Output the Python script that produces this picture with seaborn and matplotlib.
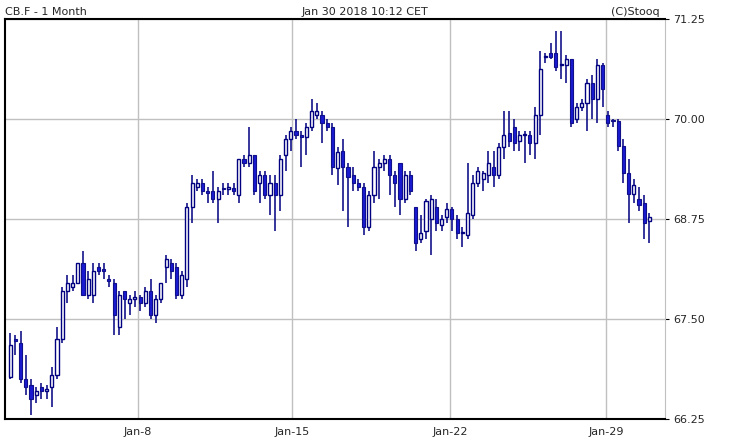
import numpy as np
import matplotlib
matplotlib.use("Agg")
import matplotlib.pyplot as plt
import seaborn as sns

# hourly candles, CB.F, Jan 2 - Jan 30 2018
opens = [66.78, 67.25, 67.2, 66.75, 66.68, 66.55, 66.65, 66.6, 66.65, 66.8, 67.25, 67.85,
         67.9, 67.95, 68.2, 67.8, 67.8, 68.15, 68.12, 68.0, 67.95, 67.4, 67.85, 67.7,
         67.75, 67.78, 67.7, 67.85, 67.55, 67.75, 68.15, 68.2, 68.15, 67.8, 68.0, 68.9,
         69.15, 69.2, 69.1, 69.1, 69.0, 69.13, 69.13, 69.14, 69.05, 69.5, 69.45, 69.55,
         69.2, 69.3, 69.05, 69.2, 69.05, 69.55, 69.75, 69.85, 69.8, 69.78, 69.9, 70.05,
         70.05, 69.95, 69.9, 69.39, 69.6, 69.4, 69.3, 69.2, 69.15, 68.65, 69.05, 69.4,
         69.45, 69.5, 69.3, 69.45, 69.0, 69.3, 68.9, 68.5, 68.6, 68.75, 68.9, 68.68,
         68.77, 68.88, 68.75, 68.57, 68.55, 68.8, 69.2, 69.25, 69.3, 69.4, 69.3, 69.65,
         69.82, 69.9, 69.72, 69.8, 69.8, 69.7, 70.05, 70.77, 70.83, 70.82, 70.67, 70.68,
         70.75, 70.0, 70.15, 70.2, 70.45, 70.25, 70.67, 70.05, 69.98, 69.98, 69.66, 69.33,
         69.06, 69.0, 68.95, 68.72]
highs = [67.32, 67.3, 67.35, 67.05, 66.75, 66.65, 66.7, 66.68, 66.9, 67.4, 67.9, 68.05,
         68.05, 68.2, 68.35, 68.1, 68.2, 68.2, 68.2, 68.05, 68.0, 67.85, 67.85, 67.8,
         67.85, 67.8, 67.9, 68.0, 67.8, 67.95, 68.3, 68.25, 68.2, 68.1, 68.95, 69.3,
         69.25, 69.25, 69.15, 69.35, 69.15, 69.2, 69.2, 69.2, 69.5, 69.55, 69.9, 69.55,
         69.35, 69.35, 69.3, 69.3, 69.55, 69.8, 69.9, 70.0, 69.85, 69.95, 70.25, 70.2,
         70.1, 70.0, 69.95, 69.65, 69.75, 69.45, 69.4, 69.25, 69.2, 69.1, 69.6, 69.5,
         69.55, 69.55, 69.35, 69.45, 69.35, 69.35, 68.9, 68.8, 69.0, 69.05, 69.0, 68.8,
         68.95, 68.9, 68.8, 68.65, 69.45, 69.3, 69.4, 69.35, 69.6, 69.6, 69.7, 70.1,
         70.1, 70.0, 69.85, 69.85, 69.85, 70.15, 70.85, 70.82, 70.95, 71.1, 71.1, 70.8,
         70.75, 70.2, 70.25, 70.5, 70.55, 70.75, 70.7, 70.1, 70.0, 70.0, 69.75, 69.5,
         69.25, 69.15, 69.05, 68.82]
lows = [66.75, 67.05, 66.7, 66.55, 66.3, 66.45, 66.5, 66.5, 66.4, 66.75, 67.2, 67.7,
        67.85, 67.95, 67.8, 67.75, 67.7, 68.05, 68.0, 67.9, 67.3, 67.3, 67.5, 67.55,
        67.65, 67.6, 67.65, 67.5, 67.45, 67.7, 67.95, 68.0, 67.75, 67.75, 67.9, 68.7,
        69.1, 69.05, 68.95, 68.95, 68.7, 69.05, 69.05, 69.05, 68.95, 69.4, 69.4, 69.05,
        68.95, 69.0, 68.8, 68.6, 68.85, 69.35, 69.6, 69.75, 69.4, 69.55, 69.85, 70.0,
        69.7, 69.85, 69.3, 69.17, 68.85, 68.65, 69.1, 69.1, 68.55, 68.6, 68.95, 69.0,
        69.35, 69.05, 68.9, 68.8, 68.95, 69.05, 68.35, 68.45, 68.5, 68.3, 68.6, 68.6,
        68.7, 68.6, 68.5, 68.4, 68.5, 68.75, 69.15, 69.1, 69.2, 69.15, 69.25, 69.5,
        69.65, 69.6, 69.6, 69.45, 69.55, 69.5, 69.8, 70.7, 70.75, 70.6, 70.5, 70.45,
        69.9, 69.95, 70.1, 69.85, 70.0, 69.95, 70.15, 69.9, 69.9, 69.6, 69.2, 68.7,
        68.95, 68.85, 68.5, 68.45]
closes = [67.17, 67.22, 66.75, 66.65, 66.5, 66.6, 66.6, 66.62, 66.8, 67.25, 67.85, 67.95,
          67.95, 68.2, 67.8, 68.0, 68.1, 68.1, 68.1, 67.98, 67.55, 67.8, 67.75, 67.75,
          67.77, 67.7, 67.85, 67.55, 67.75, 67.95, 68.25, 68.1, 67.8, 68.05, 68.9, 69.2,
          69.2, 69.1, 69.08, 69.0, 69.1, 69.12, 69.13, 69.1, 69.5, 69.45, 69.55, 69.1,
          69.3, 69.05, 69.2, 69.05, 69.5, 69.75, 69.85, 69.8, 69.78, 69.9, 70.1, 70.1,
          69.95, 69.9, 69.4, 69.59, 69.4, 69.28, 69.2, 69.15, 68.65, 69.05, 69.4, 69.45,
          69.5, 69.3, 69.2, 69.0, 69.3, 69.1, 68.45, 68.58, 68.98, 69.0, 68.7, 68.75,
          68.88, 68.75, 68.57, 68.58, 68.82, 69.2, 69.35, 69.32, 69.45, 69.3, 69.65, 69.8,
          69.72, 69.7, 69.8, 69.8, 69.7, 70.05, 70.62, 70.77, 70.78, 70.65, 70.67, 70.75,
          69.95, 70.15, 70.2, 70.45, 70.25, 70.67, 70.37, 69.95, 69.97, 69.66, 69.33, 69.06,
          69.17, 68.92, 68.7, 68.77]

tick_labels = ["Jan-8", "Jan-15", "Jan-22", "Jan-29"]
tick_pos = [24.6, 54.3, 84.7, 114.7]
y_ticks = [66.25, 67.50, 68.75, 70.00, 71.25]

sns.set_style("white")
plt.rcParams['font.family'] = ['DejaVu Sans']

fig = plt.figure(figsize=(7.30, 4.44), dpi=100)
ax = fig.add_axes([5 / 730, 25 / 444, 660 / 730, 400 / 444])

o = np.array(opens)
c = np.array(closes)
x = np.arange(len(o))
up = c >= o
body_lo = np.minimum(o, c)
body_h = np.maximum(np.abs(c - o), 0.015)

ax.vlines(x, lows, highs, color="#000080", linewidth=1.1, zorder=2)
ax.bar(x[up], body_h[up], bottom=body_lo[up], width=0.6, color="white",
       edgecolor="#000080", linewidth=1.0, zorder=3)
ax.bar(x[~up], body_h[~up], bottom=body_lo[~up], width=0.6, color="#1a1ad2",
       edgecolor="#10108a", linewidth=0.8, zorder=3)

ax.set_xlim(-1, 126)
ax.set_ylim(66.25, 71.25)
ax.set_xticks(tick_pos)
ax.set_xticklabels(tick_labels, fontsize=8)
ax.set_yticks(y_ticks)
ax.set_yticklabels([f"{v:.2f}" for v in y_ticks], fontsize=8)
ax.yaxis.tick_right()
ax.grid(True, color="#c0c0c0", linewidth=1.0)
ax.tick_params(axis="both", length=3, color="black", pad=3)
for s in ["left", "bottom", "top"]:
    ax.spines[s].set_color("black")
    ax.spines[s].set_linewidth(1.5)
ax.spines["right"].set_color("#c0c0c0")

fig.text(5 / 730, 1 - 12 / 444, "CB.F - 1 Month", fontsize=8, va="center")
fig.text(0.5, 1 - 12 / 444, "Jan 30 2018 10:12 CET", fontsize=8, ha="center", va="center")
fig.text(660 / 730, 1 - 12 / 444, "(C)Stooq", fontsize=8, ha="right", va="center")

fig.savefig("out.png", dpi=100, facecolor="white")
